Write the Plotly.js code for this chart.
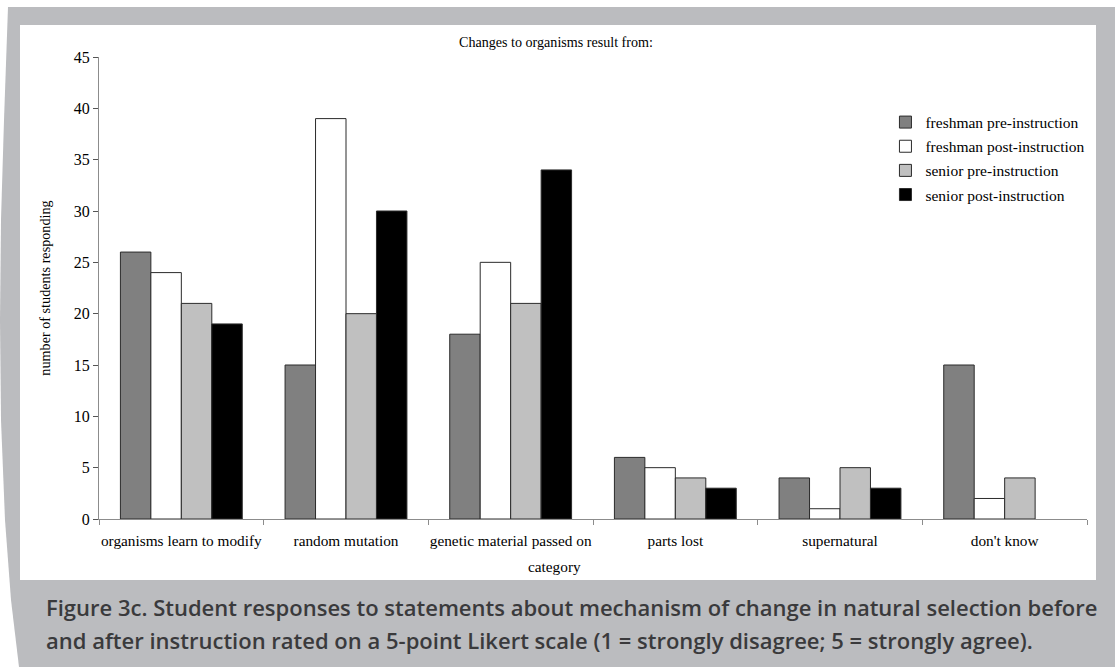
<!DOCTYPE html>
<html>
<head>
<meta charset="utf-8">
<script src="https://cdn.plot.ly/plotly-3.0.1.min.js"></script>
<style>
  html, body { margin: 0; padding: 0; background: #ffffff; }
  #wrap { position: relative; width: 1120px; height: 667px; overflow: hidden; background: #ffffff; }
  #frame { position: absolute; left: 0; top: 0; width: 1120px; height: 667px; background: #bbbcbf;
    clip-path: polygon(8px 7px, 1115px 7px, 1115px 667px, 19px 667px, 11px 600px, 5px 520px, 1px 420px, 0px 320px, 1px 220px, 4px 120px); }
  #inner { position: absolute; left: 20px; top: 25px; width: 1076px; height: 555px; background: #ffffff; }
  #chart { position: absolute; left: 0; top: 0; width: 1120px; height: 667px; }
  #caption { position: absolute; left: 46px; top: 591px; width: 1070px; font-family: "Open Sans", sans-serif; font-weight: 600;
    font-size: 22px; line-height: 33px; color: #3a3a3c; letter-spacing: 0px; white-space: nowrap; }
</style>
</head>
<body>
<div id="wrap">
  <div id="frame"></div>
  <div id="inner"></div>
  <div id="chart"></div>
  <div id="caption">Figure 3c. Student responses to statements about mechanism of change in natural selection before<br>and after instruction rated on a 5-point Likert scale (1 = strongly disagree; 5 = strongly agree).</div>
</div>
<script>
const categories = ["organisms learn to modify", "random mutation", "genetic material passed on", "parts lost", "supernatural", "don't know"];
const freshmanPre = [26, 15, 18, 6, 4, 15];
const freshmanPost = [24, 39, 25, 5, 1, 2];
const seniorPre = [21, 20, 21, 4, 5, 4];
const seniorPost = [19, 30, 34, 3, 3, 0];
const seriesNames = ["freshman pre-instruction", "freshman post-instruction", "senior pre-instruction", "senior post-instruction"];
const seriesColors = ["#808080", "#ffffff", "#c0c0c0", "#000000"];
const yTicks = [0, 5, 10, 15, 20, 25, 30, 35, 40, 45];

const allSeries = [freshmanPre, freshmanPost, seniorPre, seniorPost];
const traces = allSeries.map((vals, i) => ({
  type: "bar",
  x: categories,
  y: vals,
  name: seriesNames[i],
  legendgroup: "g" + i,
  marker: { color: seriesColors[i], line: { color: "#2b2b2b", width: vals.map(v => v === 0 ? 0 : 1) } },
  hoverinfo: "skip"
}));

const serif = "'Liberation Serif', 'Times New Roman', serif";
const layout = {
  width: 1120, height: 667,
  margin: { l: 99, r: 33, t: 57, b: 148 },
  paper_bgcolor: "rgba(0,0,0,0)",
  plot_bgcolor: "rgba(0,0,0,0)",
  barmode: "group",
  bargap: 0.26,
  bargroupgap: 0,
  font: { family: serif, color: "#000000", size: 15 },
  showlegend: true,
  legend: {
    x: 0.796, y: 0.895, xanchor: "left", yanchor: "top",
    bgcolor: "rgba(0,0,0,0)",
    font: { family: serif, size: 15.5, color: "#000000" },
    traceorder: "grouped",
    tracegroupgap: 1
  },
  xaxis: {
    type: "category",
    range: [-0.5, 5.5],
    tickangle: 0,
    ticklabelstandoff: 8,
    showline: true, linecolor: "#8c8c8c", linewidth: 1,
    ticks: "outside", tickson: "boundaries", ticklen: 5, tickcolor: "#8c8c8c",
    tickfont: { family: serif, size: 15.3, color: "#000000" },
    showgrid: false, zeroline: false, fixedrange: true
  },
  yaxis: {
    range: [0, 45],
    tickvals: yTicks,
    ticktext: yTicks.map(String),
    showline: true, linecolor: "#8c8c8c", linewidth: 1,
    ticks: "outside", ticklen: 5, tickcolor: "#555555",
    tickfont: { family: serif, size: 16, color: "#000000" },
    showgrid: false, zeroline: false, fixedrange: true,
    title: { text: "number of students responding", font: { family: serif, size: 14.2, color: "#000000" }, standoff: 19 }
  },
  annotations: [
    { text: "Changes to organisms result from:", xref: "paper", yref: "paper", x: 0.4626, y: 1.033,
      xanchor: "center", yanchor: "middle", showarrow: false, font: { family: serif, size: 14.1, color: "#000000" } },
    { text: "category", xref: "paper", yref: "paper", x: 0.4615, y: -0.102,
      xanchor: "center", yanchor: "middle", showarrow: false, font: { family: serif, size: 15.3, color: "#000000" } }
  ]
};

Plotly.newPlot("chart", traces, layout, { displayModeBar: false, staticPlot: true });
</script>
</body>
</html>
